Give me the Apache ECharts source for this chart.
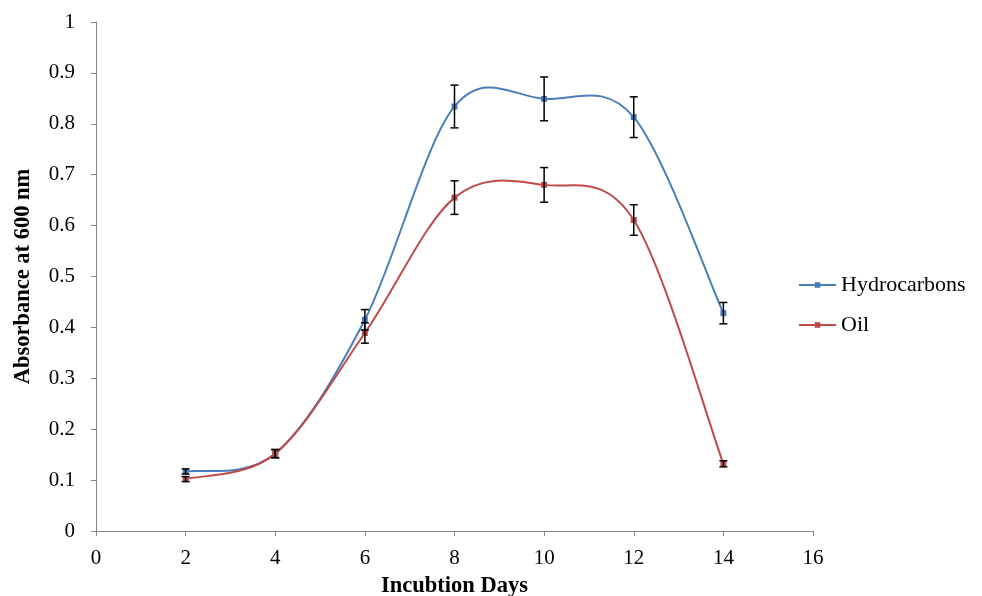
<!DOCTYPE html>
<html>
<head>
<meta charset="utf-8">
<script src="https://cdn.jsdelivr.net/npm/echarts@6/dist/echarts.min.js"></script>
<style>
  html, body { margin: 0; padding: 0; background: #fff; }
  #chart { width: 982px; height: 596px; }
</style>
</head>
<body>
<div id="chart"></div>
<script>
const days = [2, 4, 6, 8, 10, 12, 14];
const hydroValues = [0.117, 0.152, 0.415, 0.834, 0.849, 0.813, 0.428];
const hydroErrors = [0.005, 0.008, 0.02, 0.042, 0.043, 0.04, 0.021];
const oilValues = [0.102, 0.152, 0.389, 0.655, 0.680, 0.611, 0.132];
const oilErrors = [0.005, 0.008, 0.02, 0.033, 0.034, 0.03, 0.006];

const blue = '#4A7EBB';
const red = '#BE4B48';
const font = '"Liberation Serif", "Times New Roman", serif';

const pairs = (vals) => days.map((d, i) => [d, vals[i]]);
const errRows = (vals, errs) => days.map((d, i) => [d, vals[i] - errs[i], vals[i] + errs[i]]);

function renderErr(params, api) {
  const x = api.value(0);
  const lo = api.coord([x, api.value(1)]);
  const hi = api.coord([x, api.value(2)]);
  const cap = 4;
  const style = { stroke: '#000', lineWidth: 1.5 };
  return {
    type: 'group',
    children: [
      { type: 'line', shape: { x1: lo[0], y1: lo[1], x2: hi[0], y2: hi[1] }, style },
      { type: 'line', shape: { x1: lo[0] - cap, y1: lo[1], x2: lo[0] + cap, y2: lo[1] }, style },
      { type: 'line', shape: { x1: hi[0] - cap, y1: hi[1], x2: hi[0] + cap, y2: hi[1] }, style }
    ]
  };
}

// Excel-like smoothed segment (Catmull-Rom style bezier) between point i and i+1
function curveRenderer(vals, color) {
  return function (params, api) {
    const i = params.dataIndex;
    const n = days.length;
    if (i >= n - 1) return null;
    const p = (k) => api.coord([days[Math.max(0, Math.min(n - 1, k))], vals[Math.max(0, Math.min(n - 1, k))]]);
    const p0 = p(i - 1), p1 = p(i), p2 = p(i + 1), p3 = p(i + 2);
    return {
      type: 'bezierCurve',
      shape: {
        x1: p1[0], y1: p1[1],
        cpx1: p1[0] + (p2[0] - p0[0]) / 6, cpy1: p1[1] + (p2[1] - p0[1]) / 6,
        cpx2: p2[0] - (p3[0] - p1[0]) / 6, cpy2: p2[1] - (p3[1] - p1[1]) / 6,
        x2: p2[0], y2: p2[1]
      },
      style: { stroke: color, lineWidth: 2, fill: null }
    };
  };
}

const myChart = echarts.init(document.getElementById('chart'));
const option = {
  animation: false,
  grid: { left: 96, right: 169, top: 22, bottom: 65, outerBoundsMode: 'none', containLabel: false },
  legend: {
    orient: 'vertical',
    left: 793,
    top: 269,
    itemWidth: 37,
    itemHeight: 7,
    itemGap: 18,
    textStyle: { fontFamily: font, fontSize: 22, color: '#000' },
    data: [
      { name: 'Hydrocarbons', lineStyle: { opacity: 1, color: blue, width: 2 } },
      { name: 'Oil', lineStyle: { opacity: 1, color: red, width: 2 } }
    ]
  },
  xAxis: {
    type: 'value',
    min: 0,
    max: 16,
    interval: 2,
    name: 'Incubtion Days',
    nameLocation: 'middle',
    nameGap: 44,
    nameTextStyle: { fontFamily: font, fontSize: 22.5, fontWeight: 'bold', color: '#000' },
    axisLine: { lineStyle: { color: '#868686', width: 1 } },
    axisTick: { show: true, length: 5, lineStyle: { color: '#868686' } },
    axisLabel: { fontFamily: font, fontSize: 21, color: '#000', margin: 17 },
    splitLine: { show: false }
  },
  yAxis: {
    type: 'value',
    min: 0,
    max: 1,
    interval: 0.1,
    name: 'Absorbance at 600 nm',
    nameLocation: 'middle',
    nameGap: 61,
    nameTextStyle: { fontFamily: font, fontSize: 22.5, fontWeight: 'bold', color: '#000' },
    axisLine: { show: true, lineStyle: { color: '#868686', width: 1 } },
    axisTick: { show: true, length: 5, lineStyle: { color: '#868686' } },
    axisLabel: { fontFamily: font, fontSize: 21, color: '#000', margin: 21 },
    splitLine: { show: false }
  },
  series: [
    {
      type: 'custom',
      renderItem: curveRenderer(hydroValues, blue),
      data: pairs(hydroValues),
      encode: { x: 0, y: 1 },
      z: 2
    },
    {
      type: 'custom',
      renderItem: curveRenderer(oilValues, red),
      data: pairs(oilValues),
      encode: { x: 0, y: 1 },
      z: 2
    },
    {
      name: 'Hydrocarbons',
      type: 'line',
      symbol: 'rect',
      symbolSize: 6,
      lineStyle: { color: blue, width: 2, opacity: 0 },
      itemStyle: { color: blue },
      data: pairs(hydroValues),
      z: 3
    },
    {
      name: 'Oil',
      type: 'line',
      symbol: 'rect',
      symbolSize: 6,
      lineStyle: { color: red, width: 2, opacity: 0 },
      itemStyle: { color: red },
      data: pairs(oilValues),
      z: 3
    },
    {
      type: 'custom',
      renderItem: renderErr,
      data: errRows(hydroValues, hydroErrors),
      encode: { x: 0, y: [1, 2] },
      z: 4
    },
    {
      type: 'custom',
      renderItem: renderErr,
      data: errRows(oilValues, oilErrors),
      encode: { x: 0, y: [1, 2] },
      z: 4
    }
  ]
};
myChart.setOption(option);
</script>
</body>
</html>
